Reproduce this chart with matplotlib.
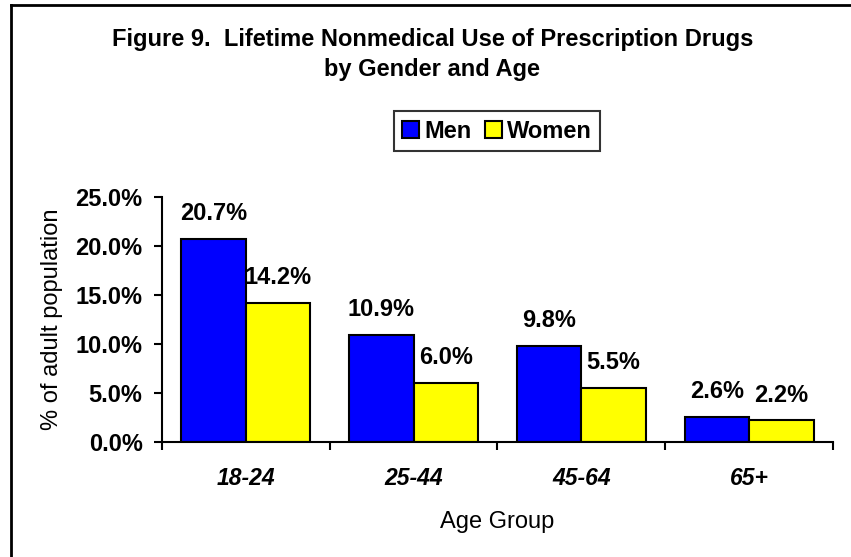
import matplotlib
matplotlib.use("Agg")
import matplotlib.pyplot as plt
import numpy as np
from matplotlib.lines import Line2D
from matplotlib.ticker import FixedLocator, FuncFormatter

plt.rcParams['font.family'] = ['Liberation Sans', 'DejaVu Sans']

categories = ["18-24", "25-44", "45-64", "65+"]
men = [20.7, 10.9, 9.8, 2.6]
women = [14.2, 6.0, 5.5, 2.2]
yticks = [0, 5, 10, 15, 20, 25]

FS = 17

fig = plt.figure(figsize=(8.51, 5.57), dpi=100)
ax = fig.add_axes([0.1904, 0.2065, 0.9788 - 0.1904, 0.6463 - 0.2065])

x = np.arange(len(categories))
w = 0.384
b1 = ax.bar(x - w / 2, men, w, color="#0000FF", edgecolor="black", linewidth=1.5, label="Men")
b2 = ax.bar(x + w / 2, women, w, color="#FFFF00", edgecolor="black", linewidth=1.5, label="Women")

for bars, vals in ((b1, men), (b2, women)):
    for r, v in zip(bars, vals):
        ax.annotate(f"{v:.1f}%", (r.get_x() + r.get_width() / 2, v), xytext=(0, 13.5),
                    textcoords="offset points", ha="center", va="baseline",
                    fontsize=FS, fontweight="bold")

ax.set_xlim(-0.5, len(categories) - 0.5)
ax.set_ylim(0, 25)
ax.set_yticks(yticks)
ax.yaxis.set_major_formatter(FuncFormatter(lambda v, p: f"{v:.1f}%"))
for lab in ax.get_yticklabels():
    lab.set_fontweight("bold")
    lab.set_fontsize(FS)

ax.xaxis.set_major_locator(FixedLocator(np.arange(-0.5, len(categories), 1.0)))
ax.xaxis.set_minor_locator(FixedLocator(x))
ax.set_xticklabels([], minor=False)
ax.set_xticklabels(categories, minor=True, fontsize=16.5, fontweight="bold", style="italic")
ax.tick_params(axis="x", which="minor", length=0, pad=18)
ax.tick_params(axis="x", which="major", length=6, width=1.5, direction="out")
ax.tick_params(axis="y", length=6, width=1.5, direction="out", pad=8)

for s in ("top", "right"):
    ax.spines[s].set_visible(False)
for s in ("left", "bottom"):
    ax.spines[s].set_linewidth(1.5)

ax.set_xlabel("Age Group", fontsize=FS, labelpad=15)
ax.set_ylabel("% of adult population", fontsize=FS, labelpad=9)

fig.text(0.508, 1 - 46 / 557, "Figure 9.  Lifetime Nonmedical Use of Prescription Drugs",
         ha="center", va="baseline", fontsize=FS, fontweight="bold")
fig.text(0.508, 1 - 76 / 557, "by Gender and Age",
         ha="center", va="baseline", fontsize=FS, fontweight="bold")

leg = fig.legend(handles=[b1, b2], loc="center", bbox_to_anchor=(0.584, 1 - 131 / 557), ncol=2,
                 frameon=True, fancybox=False, edgecolor="black",
                 prop={"weight": "bold", "size": FS}, handlelength=0.72, handleheight=0.72,
                 handletextpad=0.22, columnspacing=0.55, borderpad=0.35, borderaxespad=0)
leg.get_frame().set_linewidth(1.5)

# outer chart border (top and left visible)
fig.add_artist(Line2D([11 / 851, 1.0], [1 - 5 / 557, 1 - 5 / 557], transform=fig.transFigure,
                      color="black", linewidth=2))
fig.add_artist(Line2D([11 / 851, 11 / 851], [0, 1 - 5 / 557], transform=fig.transFigure,
                      color="black", linewidth=2))

fig.savefig("out.png", dpi=100)
